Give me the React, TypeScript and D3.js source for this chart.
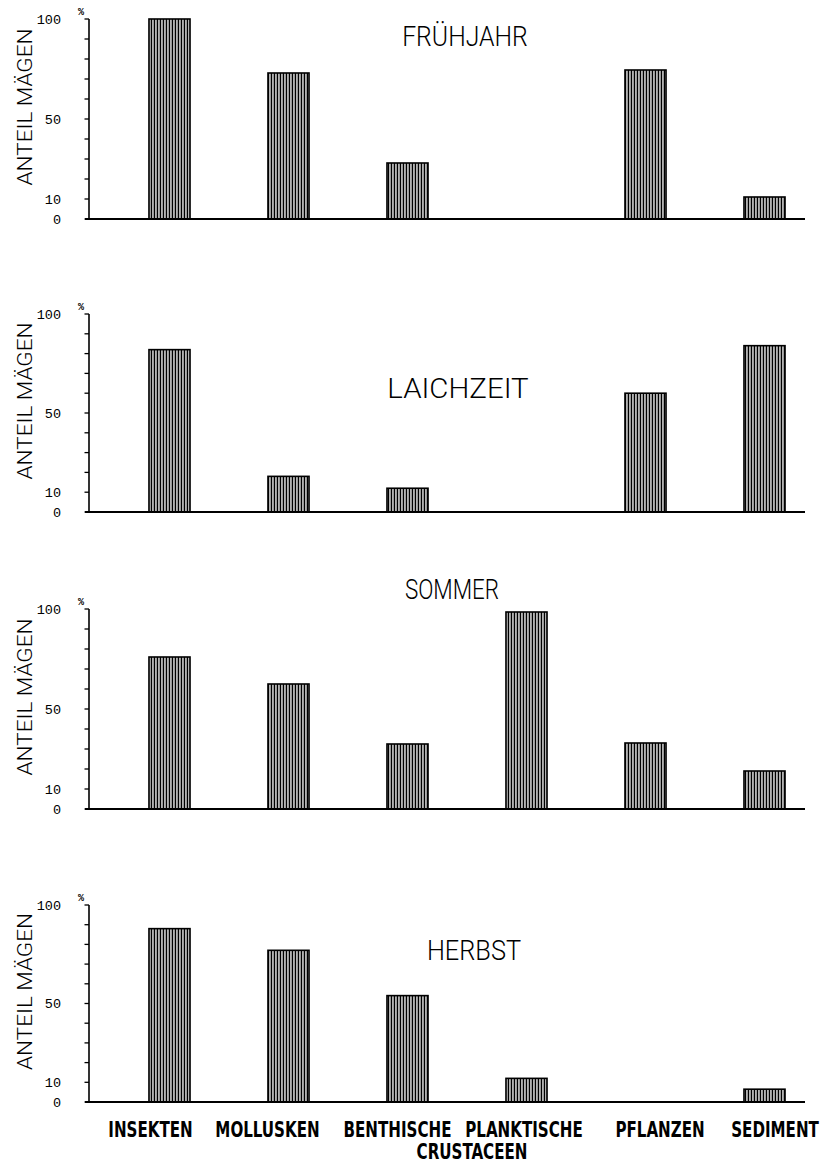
import React from 'react';
import * as d3 from 'd3';

// food categories along the x axis
const CATEGORIES = ['INSEKTEN', 'MOLLUSKEN', 'BENTHISCHE', 'PLANKTISCHE', 'PFLANZEN', 'SEDIMENT'];
const SEASONS = ['FRÜHJAHR', 'LAICHZEIT', 'SOMMER', 'HERBST'];

// share of stomachs (%) per category, one array per season
const FRUEHJAHR = [100, 73, 28, 0, 74.5, 11];
const LAICHZEIT = [82, 18, 12, 0, 60, 84];
const SOMMER = [76, 62.5, 32.5, 98.5, 33, 19];
const HERBST = [88, 77, 54, 12, 0, 6.5];
const SERIES = [FRUEHJAHR, LAICHZEIT, SOMMER, HERBST];

const Y_TICKS = d3.range(0, 101, 10);
const Y_LABELS = [0, 10, 50, 100];

// layout
const W = 835;
const H = 1170;
const AXIS_X = 89;
const PANEL_TOP = [19, 314, 609, 905];
const PANEL_H = [200, 198, 200, 197];
const TITLE_POS = [
  { x: 465, dy: 27 },
  { x: 458, dy: 84 },
  { x: 452, dy: -10 },
  { x: 474, dy: 55 },
];
const LABEL_SHIFT = [-19, -21, -10, -2.5, 14.5, 10.5];

const thin = "Roboto, 'DejaVu Sans', sans-serif";
const mono = "'Liberation Mono', 'DejaVu Sans Mono', monospace";
const bold = "'DejaVu Sans Condensed', 'DejaVu Sans', sans-serif";

const x = d3.scaleBand<string>()
  .domain(CATEGORIES)
  .range([110, 824])
  .paddingInner(0.655)
  .paddingOuter(0.3275);

function Panel({ idx }: { idx: number }) {
  const top = PANEL_TOP[idx];
  const bottom = top + PANEL_H[idx];
  const y = d3.scaleLinear().domain([0, 100]).range([bottom, top]);
  const values = SERIES[idx];
  const title = SEASONS[idx];
  const tp = TITLE_POS[idx];
  const mid = (top + bottom) / 2 - 12;

  return (
    <g>
      {/* bars */}
      {CATEGORIES.map((c, i) =>
        values[i] > 0 ? (
          <rect
            key={c}
            x={x(c)}
            y={y(values[i])}
            width={x.bandwidth()}
            height={y(0) - y(values[i])}
            fill="url(#hatch)"
            stroke="#000"
            strokeWidth={1.6}
          />
        ) : null
      )}
      {/* y axis */}
      <line x1={AXIS_X} x2={AXIS_X} y1={y(100)} y2={y(0)} stroke="#000" strokeWidth={1.6} />
      {Y_TICKS.map(t => (
        <line key={t} x1={AXIS_X - 4.5} x2={AXIS_X} y1={y(t)} y2={y(t)} stroke="#000" strokeWidth={1.3} />
      ))}
      {Y_LABELS.map(t => (
        <text key={t} x={61} y={y(t)} dy="0.36em" textAnchor="end" fontFamily={mono} fontSize={13.5} fill="#000">
          {t}
        </text>
      ))}
      <text x={81} y={top - 4} textAnchor="middle" fontFamily={mono} fontSize={10} fontWeight="bold" fill="#000">%</text>
      {/* baseline */}
      <line x1={85} x2={805} y1={y(0)} y2={y(0)} stroke="#000" strokeWidth={2} />
      {/* y label */}
      <text
        transform={`translate(32,${mid}) rotate(-90)`}
        textAnchor="middle"
        fontFamily={thin}
        fontWeight={300}
        fontSize={20}
        textLength={157}
        lengthAdjust="spacingAndGlyphs"
        fill="#000"
      >
        ANTEIL MÄGEN
      </text>
      {/* season title */}
      <text
        x={tp.x}
        y={top + tp.dy}
        textAnchor="middle"
        fontFamily={thin}
        fontWeight={300}
        fontSize={28}
        textLength={title.length * 15.7}
        lengthAdjust="spacingAndGlyphs"
        fill="#000"
      >
        {title}
      </text>
    </g>
  );
}

function CatLabel({ cx, cy, text }: { cx: number; cy: number; text: string }) {
  return (
    <text
      transform={`translate(${cx},${cy}) scale(0.8,1)`}
      textAnchor="middle"
      fontFamily={bold}
      fontWeight="bold"
      fontSize={21}
      fill="#000"
    >
      {text}
    </text>
  );
}

export default function App() {
  const labelY = 1137;
  const bx = (x('BENTHISCHE')! + x('PLANKTISCHE')! + x.bandwidth()) / 2;
  return (
    <svg
      width={W}
      height={H}
      viewBox={`0 0 ${W} ${H}`}
      style={{ position: 'absolute', left: 0, top: 0, background: '#fff' }}
    >
      <defs>
        <pattern id="hatch" patternUnits="userSpaceOnUse" width={3} height={6}>
          <rect x={0} y={0} width={3} height={6} fill="#fff" />
          <rect x={0.6} y={0} width={1.7} height={6} fill="#000" />
        </pattern>
      </defs>
      <rect width={W} height={H} fill="#fff" />
      {SEASONS.map((s, i) => (
        <Panel key={s} idx={i} />
      ))}
      {CATEGORIES.map((c, i) => (
        <CatLabel key={c} cx={x(c)! + x.bandwidth() / 2 + LABEL_SHIFT[i]} cy={labelY} text={c} />
      ))}
      <CatLabel cx={bx + 5} cy={labelY + 22} text="CRUSTACEEN" />
    </svg>
  );
}
